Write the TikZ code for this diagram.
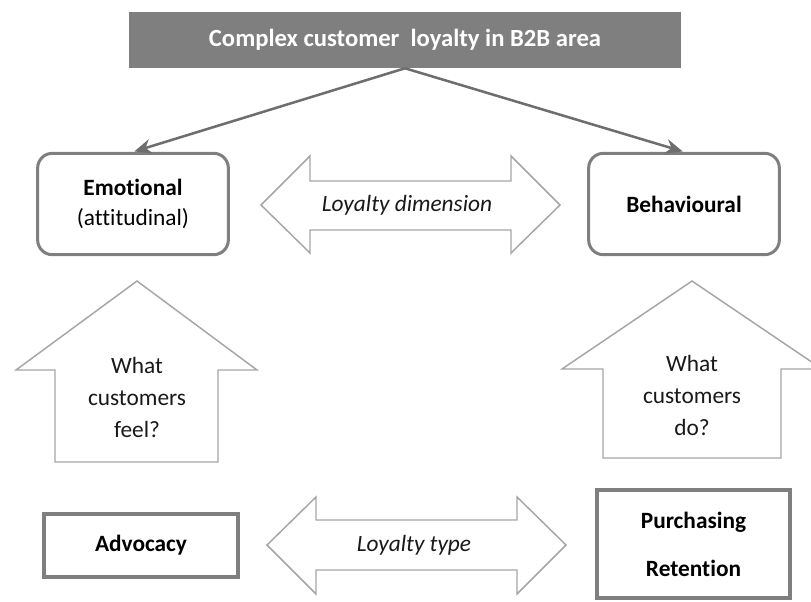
\documentclass[tikz,border=0pt]{standalone}
\usepackage{fontspec}
\setmainfont[Ligatures={NoCommon}]{Carlito}
\usetikzlibrary{arrows.meta}
\definecolor{titlegray}{HTML}{7F7F7F}
\definecolor{boxgray}{HTML}{7F7F7F}
\definecolor{arrowgray}{HTML}{A6A6A6}
\definecolor{conngray}{HTML}{6E6E6E}
\tikzset{
  titlebox/.style={fill=titlegray, draw=none, text=white, font=\fontsize{18.5pt}{22pt}\selectfont\bfseries,
    minimum width=414pt, minimum height=42pt, inner sep=0pt},
  dimbox/.style={draw=boxgray, line width=2.25pt, rounded corners=11pt, fill=white,
    minimum width=143pt, minimum height=76pt, inner sep=0pt, align=center,
    font=\fontsize{17.5pt}{23pt}\selectfont},
  typebox/.style={draw=boxgray, line width=3pt, fill=white, inner sep=0pt, align=center,
    font=\fontsize{17.5pt}{36pt}\selectfont\bfseries},
  blockarrow/.style={draw=arrowgray, line width=1.1pt, fill=white, line join=miter},
  arrowtext/.style={inner sep=0pt, align=center, text=black!90, font=\fontsize{17.5pt}{24pt}\selectfont},
  conn/.style={draw=conngray, line width=1.9pt, -{Stealth[length=13pt, width=11pt]}, shorten >=1pt}
}
\begin{document}
\begin{tikzpicture}[x=0.75pt, y=-0.75pt]
\useasboundingbox (0,0) rectangle (811,601);
\begin{scope}
\clip (0,0) rectangle (811,601);
% title
\node[titlebox] (title) at (405,40) {Complex customer\ \ loyalty in B2B area};
% dimension boxes
\node[dimbox] (emo) at (133,204) {\textbf{Emotional}\\(attitudinal)};
\node[dimbox] (beh) at (684,204) {\textbf{Behavioural}};
% connectors
\draw[conn] (title.south) -- (emo.north);
\draw[conn] (title.south) -- (beh.north);
% loyalty dimension double arrow
\draw[blockarrow] (261,205) -- (310,156) -- (310,181) -- (511,181) -- (511,156) -- (560,205)
  -- (511,253) -- (511,230) -- (310,230) -- (310,253) -- cycle;
\node[arrowtext, font=\fontsize{17.5pt}{24pt}\selectfont\itshape] (dimtext) at (407,205) {Loyalty dimension};
% up arrows
\draw[blockarrow] (137,281) -- (257,370) -- (218,370) -- (218,462) -- (55,462) -- (55,370) -- (16,370) -- cycle;
\node[arrowtext] (feel) at (137,397) {What\\customers\\feel?};
\draw[blockarrow] (692,281) -- (822,369) -- (781,369) -- (781,458) -- (603,458) -- (603,369) -- (562,369) -- cycle;
\node[arrowtext] (do) at (692,395) {What\\customers\\do?};
% loyalty type double arrow
\draw[blockarrow] (267,545) -- (316,497) -- (316,520) -- (517,520) -- (517,497) -- (566,545)
  -- (517,594) -- (517,570) -- (316,570) -- (316,594) -- cycle;
\node[arrowtext, font=\fontsize{17.5pt}{24pt}\selectfont\itshape] (typetext) at (414,545) {Loyalty type};
% type boxes
\node[typebox, minimum width=145.5pt, minimum height=47.25pt] (adv) at (141,545.5) {Advocacy};
\node[typebox, minimum width=144.75pt, minimum height=81pt] (pur) at (693.5,544) {Purchasing\\Retention};
\end{scope}
\end{tikzpicture}
\end{document}
